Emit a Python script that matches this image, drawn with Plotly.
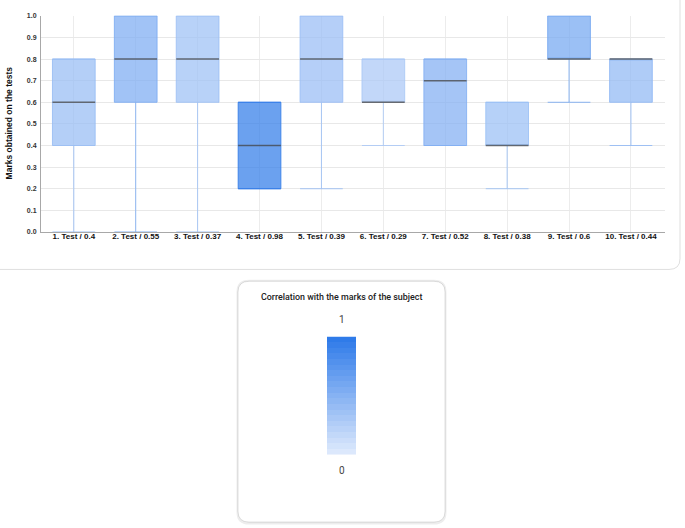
import plotly.graph_objects as go
from plotly.colors import sample_colorscale

# ---------------- data ----------------
categories = ["1. Test / 0.4", "2. Test / 0.55", "3. Test / 0.37", "4. Test / 0.98",
              "5. Test / 0.39", "6. Test / 0.29", "7. Test / 0.52", "8. Test / 0.38",
              "9. Test / 0.6", "10. Test / 0.44"]
correlation = [0.4, 0.55, 0.37, 0.98, 0.39, 0.29, 0.52, 0.38, 0.6, 0.44]
mins    = [0.0, 0.0, 0.0, 0.2, 0.2, 0.4, 0.4, 0.2, 0.6, 0.4]
q1s     = [0.4, 0.6, 0.6, 0.2, 0.6, 0.6, 0.4, 0.4, 0.8, 0.6]
medians = [0.6, 0.8, 0.8, 0.4, 0.8, 0.6, 0.7, 0.4, 0.8, 0.8]
q3s     = [0.8, 1.0, 1.0, 0.6, 1.0, 0.8, 0.8, 0.6, 1.0, 0.8]
maxs    = [0.8, 1.0, 1.0, 0.6, 1.0, 0.8, 0.8, 0.6, 1.0, 0.8]
y_ticks = [0.0, 0.1, 0.2, 0.3, 0.4, 0.5, 0.6, 0.7, 0.8, 0.9, 1.0]
legend_levels = [0.0, 0.05, 0.1, 0.15, 0.2, 0.25, 0.3, 0.35, 0.4, 0.45, 0.5,
                 0.55, 0.6, 0.65, 0.7, 0.75, 0.8, 0.85, 0.9, 0.95, 1.0]

# ---------------- style ----------------
W, H = 685, 528
LIGHT = "rgb(220,232,252)"
DARK = "rgb(47,123,233)"
cscale = [[0, LIGHT], [1, DARK]]
BOLD = "Liberation Sans, Arial, sans-serif"
ROBOTO = "Roboto, sans-serif"


def px(x):
    return x / W


def py(y):
    return 1 - y / H


def rgba(c, a):
    r, g, b = [float(v) for v in c[c.index("(") + 1:c.index(")")].split(",")]
    return f"rgba({int(r)},{int(g)},{int(b)},{a})"


def rounded_rect(x0, y0, x1, y1, r):
    X0, X1, Y0, Y1 = px(x0), px(x1), py(y0), py(y1)
    rx, ry = r / W, r / H
    return (f"M {X0+rx},{Y0} L {X1-rx},{Y0} Q {X1},{Y0} {X1},{Y0-ry} "
            f"L {X1},{Y1+ry} Q {X1},{Y1} {X1-rx},{Y1} "
            f"L {X0+rx},{Y1} Q {X0},{Y1} {X0},{Y1+ry} "
            f"L {X0},{Y0-ry} Q {X0},{Y0} {X0+rx},{Y0} Z")


fig = go.Figure()

box_w = 0.69
for i, cat in enumerate(categories):
    col = sample_colorscale(cscale, [correlation[i]])[0]
    fig.add_trace(go.Box(
        x=[cat], q1=[q1s[i]], median=[medians[i]], q3=[q3s[i]],
        lowerfence=[mins[i]], upperfence=[maxs[i]],
        width=box_w, whiskerwidth=1,
        fillcolor=rgba(col, 0.72),
        line=dict(color=rgba(col, 0.85), width=1),
        hoverinfo="skip", showlegend=False,
    ))

# median lines (dark gray)
fig.add_trace(go.Box(
    x=categories, q1=medians, median=medians, q3=medians,
    lowerfence=medians, upperfence=medians,
    width=box_w, whiskerwidth=1,
    fillcolor="rgba(0,0,0,0)",
    line=dict(color="rgba(80,80,80,0.8)", width=1.5),
    hoverinfo="skip", showlegend=False,
))

# gradient legend
fig.add_trace(go.Heatmap(
    z=[[v] for v in legend_levels], x=[0], y=legend_levels,
    colorscale=cscale, zmin=0, zmax=1, showscale=False,
    xaxis="x2", yaxis="y2", hoverinfo="skip",
))

fig.update_layout(
    width=W, height=H,
    margin=dict(l=0, r=0, t=0, b=0),
    paper_bgcolor="white", plot_bgcolor="white",
    boxmode="overlay",
    xaxis=dict(
        domain=[px(41), px(665)], type="category",
        categoryorder="array", categoryarray=categories,
        range=[-0.53, 9.55],
        showgrid=True, gridcolor="#ececec", gridwidth=1,
        showline=True, linecolor="#a8a8a8", linewidth=1,
        ticks="", ticklabelstandoff=-4,
        tickfont=dict(family=BOLD, size=8, color="#111", weight="bold"),
        zeroline=False, fixedrange=True,
    ),
    yaxis=dict(
        domain=[py(231), py(12)], range=[0, 1],
        tickvals=y_ticks, ticktext=[f"{v:.1f}" for v in y_ticks],
        showgrid=True, gridcolor="#e8e8e8", gridwidth=1,
        showline=True, linecolor="#a8a8a8", linewidth=1,
        ticks="", ticklabelstandoff=2,
        tickfont=dict(family=BOLD, size=7, color="#333", weight="bold"),
        zeroline=False, fixedrange=True,
    ),
    xaxis2=dict(domain=[px(327), px(356)], anchor="y2", visible=False),
    yaxis2=dict(domain=[py(457), py(337)], anchor="x2", visible=False,
                range=[-0.025, 1.025]),
    shapes=[
        dict(type="path", xref="paper", yref="paper",
             path=rounded_rect(-20, -20, 680, 269, 11),
             line=dict(color="rgba(0,0,0,0.13)", width=1),
             fillcolor="rgba(0,0,0,0)", layer="below"),
        dict(type="path", xref="paper", yref="paper",
             path=rounded_rect(238, 281, 445, 526, 11),
             line=dict(color="rgba(0,0,0,0.07)", width=3),
             fillcolor="rgba(0,0,0,0)", layer="below"),
        dict(type="path", xref="paper", yref="paper",
             path=rounded_rect(238, 281, 445, 525, 11),
             line=dict(color="rgba(0,0,0,0.12)", width=1),
             fillcolor="white", layer="below"),
    ],
    annotations=[
        dict(text="Marks obtained on the tests", xref="paper", yref="paper",
             x=px(9), y=py(121), textangle=-90, showarrow=False,
             xanchor="center", yanchor="middle",
             font=dict(family=BOLD, size=8.5, color="#111", weight="bold")),
        dict(text="Correlation with the marks of the subject", xref="paper", yref="paper",
             x=px(341.5), y=py(297), showarrow=False, xanchor="center", yanchor="middle",
             font=dict(family=ROBOTO, size=8.9, color="#222", weight=500)),
        dict(text="1", xref="paper", yref="paper",
             x=px(341.5), y=py(320), showarrow=False, xanchor="center", yanchor="middle",
             font=dict(family=ROBOTO, size=10, color="#444")),
        dict(text="0", xref="paper", yref="paper",
             x=px(341.5), y=py(473), showarrow=False, xanchor="center", yanchor="middle",
             font=dict(family=ROBOTO, size=10, color="#444")),
    ],
)

fig.write_html("out.html",
               config={"displayModeBar": False, "staticPlot": True},
               post_script="document.body.style.margin='0px';"
                           "document.body.style.overflow='hidden';")
